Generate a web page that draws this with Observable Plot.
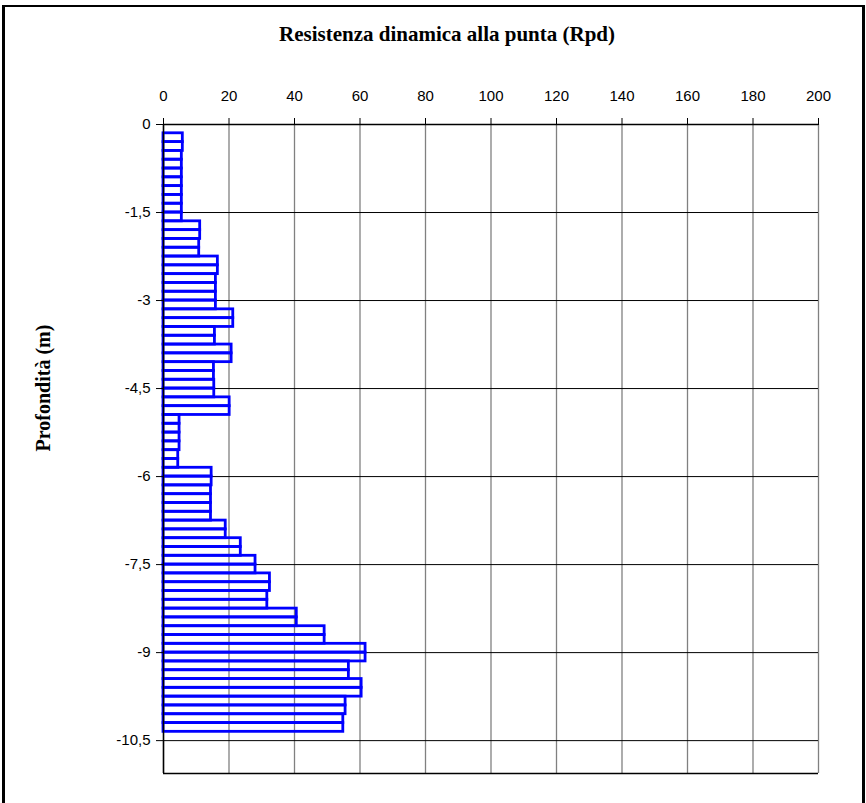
<!DOCTYPE html>
<html>
<head>
<meta charset="utf-8">
<script src="https://cdn.jsdelivr.net/npm/d3@7"></script>
<script src="https://cdn.jsdelivr.net/npm/@observablehq/plot@0.6"></script>
<style>
  html, body { margin: 0; padding: 0; background: #fff; }
  #wrap { position: relative; width: 866px; height: 803px; overflow: hidden; }
  #frame { position: absolute; left: 2px; top: 5px; width: 857px; height: 900px;
           border-left: 3px solid #000; border-top: 2px solid #000; border-right: 3px solid #000; }
  #title { position: absolute; left: 0; width: 894px; top: 22px; text-align: center;
           font-family: "Liberation Serif", "Times New Roman", serif; font-weight: bold; font-size: 21px; color: #000; }
  #ylabel { position: absolute; left: 43px; top: 388px; transform: translate(-50%, -50%) rotate(-90deg);
            white-space: nowrap; font-family: "Liberation Serif", "Times New Roman", serif; font-weight: bold; font-size: 20px; color: #000; }
  #chart { position: absolute; left: 0; top: 0; }
</style>
</head>
<body>
<div id="wrap">
  <div id="chart"></div>
  <div id="frame"></div>
  <div id="title">Resistenza dinamica alla punta (Rpd)</div>
  <div id="ylabel">Profondità (m)</div>
</div>
<script>
// Depth boundaries (m) of each reading interval
const depths = [0.15, 0.30, 0.45, 0.60, 0.75, 0.90, 1.05, 1.20, 1.35, 1.50,
  1.65, 1.80, 1.95, 2.10, 2.25, 2.40, 2.55, 2.70, 2.85, 3.00,
  3.15, 3.30, 3.45, 3.60, 3.75, 3.90, 4.05, 4.20, 4.35, 4.50,
  4.65, 4.80, 4.95, 5.10, 5.25, 5.40, 5.55, 5.70, 5.85, 6.00,
  6.15, 6.30, 6.45, 6.60, 6.75, 6.90, 7.05, 7.20, 7.35, 7.50,
  7.65, 7.80, 7.95, 8.10, 8.25, 8.40, 8.55, 8.70, 8.85, 9.00,
  9.15, 9.30, 9.45, 9.60, 9.75, 9.90, 10.05, 10.20, 10.35];
// Rpd values (one per interval)
const rpd = [5.9, 5.9, 5.6, 5.6, 5.6, 5.6, 5.6, 5.6, 5.6, 5.6,
  11.2, 11.2, 10.9, 10.9, 16.6, 16.6, 16.0, 16.0, 16.0, 16.0,
  21.3, 21.3, 15.7, 15.7, 20.8, 20.8, 15.4, 15.4, 15.5, 15.5,
  20.2, 20.2, 4.9, 4.9, 4.9, 4.9, 4.5, 4.5, 14.7, 14.7,
  14.5, 14.5, 14.5, 14.5, 19.0, 19.0, 23.6, 23.6, 28.1, 28.1,
  32.5, 32.5, 31.7, 31.7, 40.7, 40.7, 49.2, 49.2, 61.7, 61.7,
  56.6, 56.6, 60.5, 60.5, 55.6, 55.6, 54.9, 54.9];
const xTicks = [0, 20, 40, 60, 80, 100, 120, 140, 160, 180, 200];
const yTicks = [0, -1.5, -3, -4.5, -6, -7.5, -9, -10.5];
const yMin = -11.06;

const bars = rpd.map((v, i) => ({rpd: v, top: depths[i], bottom: depths[i + 1]}));

const chart = Plot.plot({
  width: 866,
  height: 803,
  marginLeft: 163,
  marginRight: 48,
  marginTop: 124,
  marginBottom: 30,
  style: {fontFamily: "'Liberation Sans', Arial, sans-serif", fontSize: "15px", color: "#000", background: "transparent"},
  x: {domain: [0, 200], axis: null, label: null},
  y: {domain: [yMin, 0], axis: null, label: null},
  marks: [
    Plot.ruleX(xTicks, {stroke: "#808080", strokeWidth: 1.3}),
    Plot.ruleY(yTicks, {stroke: "#000", strokeWidth: 1}),
    Plot.ruleY([yMin], {stroke: "#000", strokeWidth: 1.5}),
    Plot.rect(bars, {x1: 0, x2: "rpd", y1: d => -d.top, y2: d => -d.bottom,
      fill: "none", stroke: "#0000ff", strokeWidth: 2.8}),
    Plot.ruleX([0], {stroke: "#000", strokeWidth: 1.5}),
    Plot.ruleY([0], {stroke: "#000", strokeWidth: 1.5}),
    Plot.axisX(xTicks, {anchor: "top", label: null, tickSize: 7, tickPadding: 17, tickFormat: d => String(d), fontSize: 15}),
    Plot.axisY(yTicks, {anchor: "left", label: null, tickSize: 7, tickPadding: 6, tickFormat: d => String(d).replace(".", ","), fontSize: 15})
  ]
});
document.getElementById("chart").appendChild(chart);
</script>
</body>
</html>
